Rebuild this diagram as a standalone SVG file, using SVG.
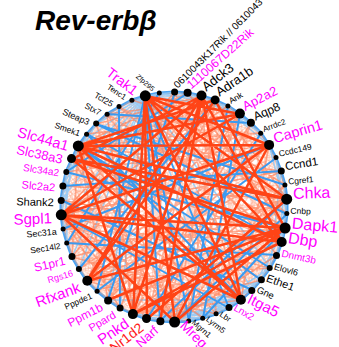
<svg xmlns="http://www.w3.org/2000/svg" width="339" height="347" viewBox="0 0 339 347">
<style>
.e{fill:none;stroke-linecap:round;stroke-linejoin:round}
.p1{stroke:#FF8F6B;stroke-opacity:.35;stroke-width:1.3}
.p2{stroke:#FFAA88;stroke-opacity:.4;stroke-width:1.2}
.ring{stroke:#4AA3F2;stroke-width:3}
.lb{stroke:#8CC8F8;stroke-width:1.5;stroke-opacity:.85}
.om{stroke:#FF7A50;stroke-width:1.7;stroke-opacity:.6}
.bl{stroke:#3A9AF0;stroke-width:2}
.rd{stroke:#FF4416;stroke-width:2.5}
circle{fill:#000}
text{font-family:"Liberation Sans",Arial,sans-serif}
.r{text-anchor:start}
.l{text-anchor:end}
.k{fill:#000}
.m{fill:#FF00FF}
.red{fill:#FF1A1A}
</style>
<text x="35" y="30" font-size="28" font-weight="bold" font-style="italic" fill="#000">Rev-erbβ</text>
<g id="connectors">
<path class="e ring" d="M175 92L188 93L202 96L215 100L228 106L240 114L251 123L261 133L269 145L276 158L281 171L285 185L287 199L287 214L285 228L282 242L277 255L270 268L261 280L252 290L241 300L229 308L216 314L203 318L189 321L175 322L160 321L147 319L133 314L120 308L108 300L97 291L87 281L79 269L72 257L67 243L63 229L61 215L61 200L63 186L66 172L72 159L78 146L87 134L96 124L107 114L119 107L132 100L145 96L159 93Z"/>
<path class="e p2" d="M175 92L276 158L261 280L147 319L63 229L107 114L228 106L287 214L216 314L97 291L66 172L159 93L269 145L270 268L160 321L67 243L96 124L215 100L287 199L229 308L108 300L63 186L145 96L261 133L277 255L175 322L72 257L87 134L202 96L285 185L241 300L120 308L61 200L132 100L251 123L282 242L189 321L79 269L78 146L188 93L281 171L252 290L133 314L61 215L119 107L240 114L285 228L203 318L87 281L72 159Z"/>
<path class="e p2" d="M175 92L215 100L251 123L276 158L287 199L282 242L261 280L229 308L189 321L147 319L108 300L79 269L63 229L63 186L78 146L107 114L145 96L188 93L228 106L261 133L281 171L287 214L277 255L252 290L216 314L175 322L133 314L97 291L72 257L61 215L66 172L87 134L119 107L159 93L202 96L240 114L269 145L285 185L285 228L270 268L241 300L203 318L160 321L120 308L87 281L67 243L61 200L72 159L96 124L132 100Z"/>
<path class="e p1" d="M175 92L270 268L72 257L188 93L261 280L67 243L202 96L252 290L63 229L215 100L241 300L61 215L228 106L229 308L61 200L240 114L216 314L63 186L251 123L203 318L66 172L261 133L189 321L72 159L269 145L175 322L78 146L276 158L160 321L87 134L281 171L147 319L96 124L285 185L133 314L107 114L287 199L120 308L119 107L287 214L108 300L132 100L285 228L97 291L145 96L282 242L87 281L159 93L277 255L79 269Z"/>
<path class="e p1" d="M175 92L203 318L119 107L252 290L78 146L282 242L61 200L285 185L72 257L261 133L108 300L215 100L160 321L159 93L216 314L107 114L261 280L72 159L285 228L61 215L281 171L79 269L251 123L120 308L202 96L175 322L145 96L229 308L96 124L270 268L66 172L287 214L63 229L276 158L87 281L240 114L133 314L188 93L189 321L132 100L241 300L87 134L277 255L63 186L287 199L67 243L269 145L97 291L228 106L147 319Z"/>
<path class="e p1" d="M175 92L287 214L160 321L63 186L202 96L282 242L133 314L72 159L228 106L270 268L108 300L87 134L251 123L252 290L87 281L107 114L269 145L229 308L72 257L132 100L281 171L203 318L63 229L159 93L287 199L175 322L61 200L188 93L285 228L147 319L66 172L215 100L277 255L120 308L78 146L240 114L261 280L97 291L96 124L261 133L241 300L79 269L119 107L276 158L216 314L67 243L145 96L285 185L189 321L61 215Z"/>
<path class="e lb" d="M145 96L96 124M145 96L78 146M145 96L66 172M145 96L61 200M145 96L63 229M145 96L72 257M145 96L79 269M145 96L108 300M145 96L120 308M145 96L216 314M145 96L252 290M145 96L270 268M145 96L175 92M145 96L202 96M145 96L228 106M241 300L189 321M241 300L160 321M241 300L108 300M252 290L175 322M252 290L147 319M261 280L203 318M261 280L160 321M270 268L189 321M229 308L160 321M216 314L147 319M203 318L133 314M287 199L282 242M285 185L277 255M281 171L270 268M287 214L261 280M285 228L252 290M276 158L285 228M269 145L287 214M78 146L61 215M72 159L63 229M66 172L67 243M87 134L61 200M96 124L63 186M188 93L251 123M202 96L261 133M215 100L269 145M175 92L240 114M159 93L228 106"/>
<path class="e om" d="M78 146L188 93M78 146L261 133M78 146L281 171M78 146L261 280M78 146L216 314M78 146L108 300M61 215L175 92M61 215L228 106M61 215L281 171M61 215L270 268M61 215L203 318M61 215L120 308M87 281L175 92M87 281L240 114M87 281L281 171M87 281L270 268M87 281L216 314M133 314L107 114M133 314L175 92M133 314L251 123M133 314L285 185M133 314L261 280M175 322L96 124M175 322L159 93M175 322L251 123M175 322L285 185M175 322L277 255M241 300L61 200M241 300L107 114M241 300L175 92M241 300L269 145M282 242L108 300M282 242L61 200M282 242L119 107M282 242L202 96M285 228L67 243M285 228L107 114M285 228L188 93M287 199L97 291M287 199L63 186M287 199L119 107M287 199L215 100M269 145L79 269M269 145L66 172M269 145L132 100M240 114L160 321M240 114L108 300M240 114L63 229M240 114L87 134M215 100L189 321M215 100L120 308M215 100L67 243M215 100L107 114M202 96L216 314M202 96L147 319M202 96L72 257M202 96L96 124M145 96L285 185M145 96L287 214M145 96L277 255M78 146L175 322M61 215L147 319M87 281L287 199M133 314L241 300M147 319L240 114M175 322L215 100M282 242L72 159M215 100L72 159M269 145L108 300M287 199L72 257M78 146L72 257M72 159L175 322M241 300L72 257M282 242L63 229"/>
<path class="e bl" d="M145 96L160 321M145 96L133 314M145 96L189 321M145 96L97 291M145 96L229 308M202 96L87 281M240 114L203 318M228 106L189 321M72 159L287 199M66 172L285 228M287 214L175 322M285 228L203 318M287 199L160 321M61 215L229 308M61 200L252 290M78 146L270 268M96 124L287 214M119 107L120 308M215 100L79 269M175 92L108 300M159 93L67 243M269 145L63 229M281 171L63 186M282 242L87 134M251 123L107 114M188 93L66 172M241 300L87 134M261 280L78 146M277 255L67 243M285 185L96 124M276 158L97 291M261 133L147 319"/>
<path class="e rd" d="M78 146L215 100M78 146L240 114M78 146L269 145M78 146L287 199M78 146L282 242M78 146L241 300M78 146L133 314M61 215L285 228M61 215L269 145M61 215L240 114M61 215L202 96M61 215L175 322M61 215L241 300M61 215L282 242M87 281L269 145M87 281L215 100M87 281L285 228M133 314L145 96M133 314L202 96M133 314L285 228M133 314L282 242M147 319L287 199M147 319L145 96M175 322L145 96M175 322L269 145M175 322L285 228M241 300L145 96M241 300L202 96M241 300L72 159M282 242L145 96M285 228L72 159M287 199L72 159M287 199L145 96M269 145L145 96M240 114L145 96M202 96L72 159M202 96L282 242M215 100L285 228M285 228L108 300M202 96L160 321M87 281L202 96"/>
</g>
<g id="node-0610043K17Rik"><circle cx="174.6" cy="92" r="3.5"/><text class="r k" font-size="10" x="177.8" y="88.8" transform="rotate(-45.15 177.8 88.8)">0610043K17Rik // 0610043</text></g>
<g id="node-1110067D22Rik"><circle cx="187.6" cy="92.8" r="4"/><text class="r m" font-size="12" x="191.3" y="89.5" transform="rotate(-41.55 191.3 89.5)">1110067D22Rik</text></g>
<g id="node-Adck3"><circle cx="201.5" cy="95.5" r="5"/><text class="r k" font-size="13" x="206.2" y="91.8" transform="rotate(-37.95 206.2 91.8)">Adck3</text></g>
<g id="node-Adra1b"><circle cx="215.1" cy="99.9" r="4.5"/><text class="r k" font-size="13" x="219.6" y="96.8" transform="rotate(-34.35 219.6 96.8)">Adra1b</text></g>
<g id="node-Ank"><circle cx="227.9" cy="105.9" r="2.5"/><text class="r k" font-size="8.5" x="230.9" y="104.1" transform="rotate(-30.75 230.9 104.1)">Ank</text></g>
<g id="node-Ap2a2"><circle cx="239.9" cy="113.6" r="5"/><text class="r m" font-size="13" x="245.2" y="110.9" transform="rotate(-27.15 245.2 110.9)">Ap2a2</text></g>
<g id="node-Aqp8"><circle cx="250.9" cy="122.8" r="4"/><text class="r k" font-size="12" x="255.5" y="120.8" transform="rotate(-23.55 255.5 120.8)">Aqp8</text></g>
<g id="node-Arrdc2"><circle cx="260.7" cy="133.2" r="2.5"/><text class="r k" font-size="8" x="264" y="132" transform="rotate(-19.95 264 132)">Arrdc2</text></g>
<g id="node-Caprin1"><circle cx="269.1" cy="144.9" r="5"/><text class="r m" font-size="14.5" x="274.9" y="143.2" transform="rotate(-16.35 274.9 143.2)">Caprin1</text></g>
<g id="node-Ccdc149"><circle cx="276" cy="157.5" r="2.5"/><text class="r k" font-size="8.5" x="279.4" y="156.7" transform="rotate(-12.75 279.4 156.7)">Ccdc149</text></g>
<g id="node-Ccnd1"><circle cx="281.3" cy="170.9" r="3.5"/><text class="r k" font-size="11.5" x="285.7" y="170.2" transform="rotate(-9.15 285.7 170.2)">Ccnd1</text></g>
<g id="node-Cgref1"><circle cx="284.9" cy="184.9" r="2.5"/><text class="r k" font-size="8.5" x="288.4" y="184.6" transform="rotate(-5.55 288.4 184.6)">Cgref1</text></g>
<g id="node-Chka"><circle cx="286.7" cy="199.2" r="5.5"/><text class="r m" font-size="16" x="293.2" y="199" transform="rotate(-1.95 293.2 199)">Chka</text></g>
<g id="node-Cnbp"><circle cx="286.8" cy="213.6" r="2.5"/><text class="r k" font-size="8.5" x="290.3" y="213.7" transform="rotate(1.65 290.3 213.7)">Cnbp</text></g>
<g id="node-Dapk1"><circle cx="285.1" cy="228" r="5.5"/><text class="r m" font-size="16" x="291.6" y="228.6" transform="rotate(5.25 291.6 228.6)">Dapk1</text></g>
<g id="node-Dbp"><circle cx="281.7" cy="242" r="5"/><text class="r m" font-size="16" x="287.6" y="242.9" transform="rotate(8.85 287.6 242.9)">Dbp</text></g>
<g id="node-Dnmt3b"><circle cx="276.5" cy="255.4" r="3.5"/><text class="r m" font-size="10" x="280.9" y="256.4" transform="rotate(12.45 280.9 256.4)">Dnmt3b</text></g>
<g id="node-Elovl6"><circle cx="269.7" cy="268.1" r="3"/><text class="r k" font-size="9" x="273.5" y="269.2" transform="rotate(16.05 273.5 269.2)">Elovl6</text></g>
<g id="node-Ethe1"><circle cx="261.4" cy="279.8" r="3.5"/><text class="r k" font-size="11" x="265.6" y="281.3" transform="rotate(19.65 265.6 281.3)">Ethe1</text></g>
<g id="node-Gne"><circle cx="251.8" cy="290.4" r="3.5"/><text class="r k" font-size="9.5" x="255.9" y="292.2" transform="rotate(23.25 255.9 292.2)">Gne</text></g>
<g id="node-Itga5"><circle cx="240.9" cy="299.7" r="5"/><text class="r m" font-size="15" x="246.3" y="302.4" transform="rotate(26.85 246.3 302.4)">Itga5</text></g>
<g id="node-Lnx2"><circle cx="229" cy="307.5" r="3.5"/><text class="r m" font-size="10" x="232.9" y="309.8" transform="rotate(30.45 232.9 309.8)">Lnx2</text></g>
<g id="node-Lbr"><circle cx="216.1" cy="313.7" r="2.5"/><text class="r k" font-size="8" x="219" y="315.7" transform="rotate(34.05 219 315.7)">Lbr</text></g>
<g id="node-Lyrm5"><circle cx="202.7" cy="318.2" r="2.5"/><text class="r k" font-size="8" x="205.5" y="320.3" transform="rotate(37.65 205.5 320.3)">Lyrm5</text></g>
<g id="node-Mgrn1"><circle cx="188.7" cy="321" r="2.5"/><text class="r k" font-size="8" x="191.3" y="323.3" transform="rotate(41.25 191.3 323.3)">Mgrn1</text></g>
<g id="node-Mreg"><circle cx="174.6" cy="322" r="5.5"/><text class="r m" font-size="14" x="179.2" y="326.6" transform="rotate(44.85 179.2 326.6)">Mreg</text></g>
<g id="node-Narf"><circle cx="160.4" cy="321.2" r="4"/><text class="l m" font-size="13" dy=".55em" x="154.4" y="326.5" transform="rotate(-41.55 154.4 326.5)">Narf</text></g>
<g id="node-Nr1d2"><circle cx="146.5" cy="318.5" r="4.5"/><text class="l red" font-size="14" dy=".55em" x="139.8" y="323.7" transform="rotate(-37.95 139.8 323.7)">Nr1d2</text></g>
<g id="node-Pnkd"><circle cx="132.9" cy="314.1" r="5"/><text class="l m" font-size="15" dy=".55em" x="125.5" y="319.2" transform="rotate(-34.35 125.5 319.2)">Pnkd</text></g>
<g id="node-Ppard"><circle cx="120.1" cy="308.1" r="3.5"/><text class="l m" font-size="11" dy=".55em" x="113.7" y="311.9" transform="rotate(-30.75 113.7 311.9)">Ppard</text></g>
<g id="node-Ppm1b"><circle cx="108.1" cy="300.4" r="4"/><text class="l m" font-size="12" dy=".55em" x="101" y="304.1" transform="rotate(-27.15 101 304.1)">Ppm1b</text></g>
<g id="node-Pppde1"><circle cx="97.1" cy="291.2" r="2.5"/><text class="l k" font-size="8.5" dy=".55em" x="91.1" y="293.8" transform="rotate(-23.55 91.1 293.8)">Pppde1</text></g>
<g id="node-Rfxank"><circle cx="87.3" cy="280.8" r="5"/><text class="l m" font-size="15" dy=".55em" x="78.8" y="283.9" transform="rotate(-19.95 78.8 283.9)">Rfxank</text></g>
<g id="node-Rgs16"><circle cx="78.9" cy="269.1" r="3"/><text class="l m" font-size="9" dy=".55em" x="72.2" y="271.1" transform="rotate(-16.35 72.2 271.1)">Rgs16</text></g>
<g id="node-S1pr1"><circle cx="72" cy="256.5" r="3.5"/><text class="l m" font-size="12" dy=".55em" x="64.7" y="258.2" transform="rotate(-12.75 64.7 258.2)">S1pr1</text></g>
<g id="node-Sec14l2"><circle cx="66.7" cy="243.1" r="2.5"/><text class="l k" font-size="8.5" dy=".55em" x="60.3" y="244.1" transform="rotate(-9.15 60.3 244.1)">Sec14l2</text></g>
<g id="node-Sec31a"><circle cx="63.1" cy="229.1" r="2.5"/><text class="l k" font-size="9" dy=".55em" x="56.6" y="229.7" transform="rotate(-5.55 56.6 229.7)">Sec31a</text></g>
<g id="node-Sgpl1"><circle cx="61.3" cy="214.8" r="5.5"/><text class="l m" font-size="15" dy=".55em" x="51.8" y="215.1" transform="rotate(-1.95 51.8 215.1)">Sgpl1</text></g>
<g id="node-Shank2"><circle cx="61.2" cy="200.4" r="3.5"/><text class="l k" font-size="11" dy=".55em" x="53.7" y="200.2" transform="rotate(1.65 53.7 200.2)">Shank2</text></g>
<g id="node-Slc2a2"><circle cx="62.9" cy="186" r="3.5"/><text class="l m" font-size="11" dy=".55em" x="55.4" y="185.3" transform="rotate(5.25 55.4 185.3)">Slc2a2</text></g>
<g id="node-Slc34a2"><circle cx="66.3" cy="172" r="3"/><text class="l m" font-size="10" dy=".55em" x="59.4" y="170.9" transform="rotate(8.85 59.4 170.9)">Slc34a2</text></g>
<g id="node-Slc38a3"><circle cx="71.5" cy="158.6" r="4.5"/><text class="l m" font-size="13" dy=".55em" x="63.2" y="156.8" transform="rotate(12.45 63.2 156.8)">Slc38a3</text></g>
<g id="node-Slc44a1"><circle cx="78.3" cy="145.9" r="5.5"/><text class="l m" font-size="14.5" dy=".55em" x="69.2" y="143.3" transform="rotate(16.05 69.2 143.3)">Slc44a1</text></g>
<g id="node-Smek1"><circle cx="86.6" cy="134.2" r="2.5"/><text class="l k" font-size="8.5" dy=".55em" x="80.5" y="132" transform="rotate(19.65 80.5 132)">Smek1</text></g>
<g id="node-Steap3"><circle cx="96.2" cy="123.6" r="3"/><text class="l k" font-size="9" dy=".55em" x="89.8" y="120.8" transform="rotate(23.25 89.8 120.8)">Steap3</text></g>
<g id="node-Stx7"><circle cx="107.1" cy="114.3" r="2.5"/><text class="l k" font-size="8.5" dy=".55em" x="101.3" y="111.4" transform="rotate(26.85 101.3 111.4)">Stx7</text></g>
<g id="node-Tcf25"><circle cx="119" cy="106.5" r="2.5"/><text class="l k" font-size="8.5" dy=".55em" x="113.4" y="103.2" transform="rotate(30.45 113.4 103.2)">Tcf25</text></g>
<g id="node-Tenc1"><circle cx="131.9" cy="100.3" r="2.5"/><text class="l k" font-size="8" dy=".55em" x="126.5" y="96.7" transform="rotate(34.05 126.5 96.7)">Tenc1</text></g>
<g id="node-Trak1"><circle cx="145.3" cy="95.8" r="5.5"/><text class="l m" font-size="14" dy=".55em" x="137.8" y="90" transform="rotate(37.65 137.8 90)">Trak1</text></g>
<g id="node-Zfp295"><circle cx="159.3" cy="93" r="2.5"/><text class="l k" font-size="7" dy=".55em" x="154.4" y="88.7" transform="rotate(41.25 154.4 88.7)">Zfp295</text></g>
</svg>
